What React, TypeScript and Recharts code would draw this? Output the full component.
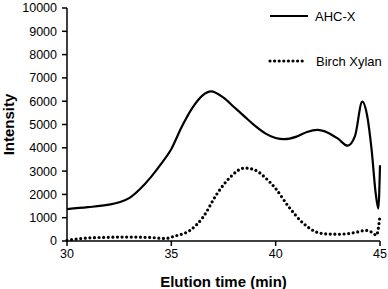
import { LineChart, Line, XAxis, YAxis } from 'recharts';

// AHC-X elution profile
const ahcTime = [30, 31, 32, 32.5, 33, 33.5, 34, 34.5, 35, 35.5, 36, 36.5, 36.9, 37.5, 38, 38.5, 39, 39.5, 40, 40.4, 41, 41.5, 42, 42.5, 43, 43.45, 43.8, 44.15, 44.4, 44.6, 44.8, 44.92, 45];
const ahcIntensity = [1370, 1450, 1560, 1660, 1850, 2230, 2720, 3300, 3950, 4900, 5700, 6250, 6420, 6150, 5750, 5350, 4950, 4620, 4420, 4370, 4480, 4680, 4770, 4650, 4380, 4090, 4500, 5980, 5300, 3900, 2000, 1390, 3250];

// Birch Xylan elution profile
const birchTime = [30, 30.5, 31, 32, 33, 34, 34.7, 35.2, 35.9, 36.5, 37.2, 37.8, 38.5, 39, 39.5, 40, 40.6, 41.3, 42, 42.5, 43, 43.5, 44, 44.3, 44.6, 44.83, 45];
const birchIntensity = [30, 90, 130, 160, 170, 150, 110, 220, 460, 1000, 2040, 2720, 3130, 3050, 2720, 2250, 1500, 780, 370, 300, 290, 320, 400, 460, 380, 250, 1100];

const xTicks = [30, 35, 40, 45];
const yTicks = [0, 1000, 2000, 3000, 4000, 5000, 6000, 7000, 8000, 9000, 10000];

const ahcData = ahcTime.map((t, i) => ({ t, v: ahcIntensity[i] }));
const birchData = birchTime.map((t, i) => ({ t, v: birchIntensity[i] }));

const FONT = '"Liberation Sans", Arial, sans-serif';

// legend drawn as an overlay so it doesn't shrink the plot area
function LegendBox() {
  return (
    <svg width={120} height={70} style={{ position: 'absolute', left: 268, top: 8, overflow: 'visible' }}>
      <line x1={2} y1={8} x2={40} y2={8} stroke="#000" strokeWidth={2.2} />
      <text x={47} y={8} dominantBaseline="central" fontSize={13} fontFamily={FONT} fill="#000">AHC-X</text>
      <line x1={2} y1={53} x2={38} y2={53} stroke="#000" strokeWidth={3.2} strokeDasharray="0 4.6" strokeLinecap="round" />
      <text x={48} y={53} dominantBaseline="central" fontSize={13} fontFamily={FONT} fill="#000">Birch Xylan</text>
    </svg>
  );
}

export default function App() {
  return (
    <div style={{ position: 'absolute', left: 0, top: 0, width: 388, height: 289, background: '#fff' }}>
      <LineChart width={388} height={289} margin={{ top: 8, right: 8, left: 0, bottom: 0 }}>
        <XAxis
          dataKey="t"
          type="number"
          domain={[30, 45]}
          ticks={xTicks}
          allowDuplicatedCategory={false}
          height={48}
          stroke="#000"
          strokeWidth={1.5}
          tickSize={5}
          tickMargin={3}
          tick={{ fill: '#000', fontSize: 12.5, fontFamily: FONT }}
          label={{ value: 'Elution time (min)', position: 'insideBottom', offset: 2, fill: '#000', fontSize: 15, fontWeight: 'bold', fontFamily: FONT }}
        />
        <YAxis
          dataKey="v"
          type="number"
          domain={[0, 10000]}
          ticks={yTicks}
          width={67}
          stroke="#000"
          strokeWidth={1.5}
          tickSize={5}
          tickMargin={5}
          tick={{ fill: '#000', fontSize: 12.5, fontFamily: FONT }}
          label={{ value: 'Intensity', angle: -90, position: 'insideLeft', offset: 9, style: { textAnchor: 'middle' }, fill: '#000', fontSize: 15, fontWeight: 'bold', fontFamily: FONT }}
        />
        <Line data={ahcData} dataKey="v" type="monotone" stroke="#000" strokeWidth={2.2} dot={false} isAnimationActive={false} />
        <Line
          data={birchData}
          dataKey="v"
          type="monotone"
          stroke="#000"
          strokeWidth={3.2}
          strokeDasharray="0 4.6"
          strokeLinecap="round"
          dot={false}
          isAnimationActive={false}
        />
      </LineChart>
      <LegendBox />
    </div>
  );
}
